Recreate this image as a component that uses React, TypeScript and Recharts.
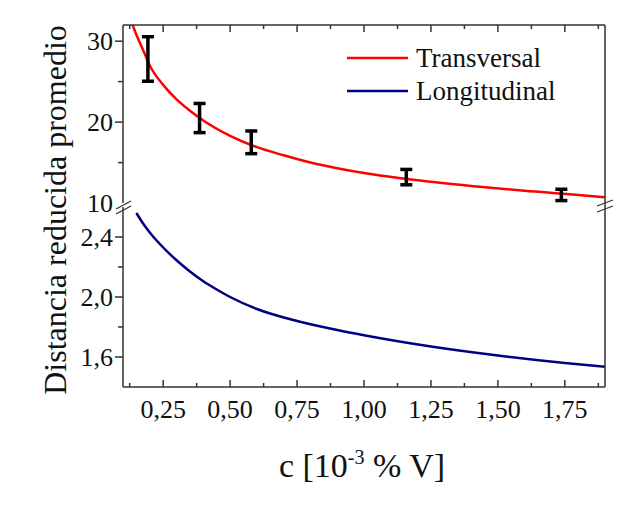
import { ComposedChart, Line, Scatter, ErrorBar, XAxis, YAxis } from "recharts";

const transX = [0.13, 0.15, 0.175, 0.2, 0.25, 0.3, 0.35, 0.4, 0.5, 0.6, 0.7, 0.8, 0.9, 1.0, 1.2, 1.4, 1.6, 1.8, 1.9];
const transY = [32.5, 30.8, 28.9, 27.0, 24.6, 22.8, 21.4, 20.2, 18.3, 16.9, 15.9, 15.0, 14.3, 13.7, 12.8, 12.1, 11.5, 11.0, 10.7];

const longX = [0.15, 0.175, 0.2, 0.25, 0.3, 0.35, 0.4, 0.45, 0.5, 0.6, 0.75, 0.9, 1.0, 1.25, 1.5, 1.75, 1.9];
const longY = [2.56, 2.49, 2.43, 2.33, 2.245, 2.17, 2.105, 2.05, 2.0, 1.92, 1.84, 1.78, 1.745, 1.67, 1.61, 1.56, 1.535];

const measX = [0.193, 0.386, 0.579, 1.158, 1.737];
const measY = [27.8, 20.5, 17.5, 13.2, 11.0];
const measErr = [2.75, 1.8, 1.4, 0.95, 0.7];

const xTicks = [0.125, 0.25, 0.375, 0.5, 0.625, 0.75, 0.875, 1.0, 1.125, 1.25, 1.375, 1.5, 1.625, 1.75, 1.875];
const xMajor = [0.25, 0.5, 0.75, 1.0, 1.25, 1.5, 1.75];
const topTicks = [10, 15, 20, 25, 30];
const topMajor = [10, 20, 30];
const botTicks = [1.6, 1.8, 2.0, 2.2, 2.4];
const botMajor = [1.6, 2.0, 2.4];

const transData = transX.map((x, i) => ({ x, y: transY[i] }));
const longData = longX.map((x, i) => ({ x, y: longY[i] }));
const measData = measX.map((x, i) => ({ x, y: measY[i], err: measErr[i] }));

const FONT = "'Liberation Serif', 'Times New Roman', serif";
const AXIS = "#333";
const W = 625;
const H = 506;

const isMajor = (list: number[], v: number) => list.some((m) => Math.abs(m - v) < 1e-6);
const comma = (v: number, d: number) => v.toFixed(d).replace(".", ",");

function LeftTick(props: any) {
  const { x, y, payload, majors, decimals, noLine } = props;
  const major = isMajor(majors, payload.value);
  const hideLine = noLine !== undefined && Math.abs(payload.value - noLine) < 1e-6;
  return (
    <g>
      {!hideLine && <line x1={x} x2={x - (major ? 8 : 5)} y1={y} y2={y} stroke={AXIS} strokeWidth={1.5} />}
      {major && (
        <text x={x - 10} y={y} textAnchor="end" dominantBaseline="central" fontFamily={FONT} fontSize={26} fill="#111">
          {comma(payload.value, decimals)}
        </text>
      )}
    </g>
  );
}

function RightTick(props: any) {
  const { x, y, payload, majors, noLine } = props;
  const major = isMajor(majors, payload.value);
  if (noLine !== undefined && Math.abs(payload.value - noLine) < 1e-6) return <g />;
  return <line x1={x} x2={x - (major ? 8 : 5)} y1={y} y2={y} stroke={AXIS} strokeWidth={1.5} />;
}

function TopTick(props: any) {
  const { x, y, payload } = props;
  const major = isMajor(xMajor, payload.value);
  return <line x1={x} x2={x} y1={y} y2={y + (major ? 7 : 4)} stroke={AXIS} strokeWidth={1.5} />;
}

function BottomTick(props: any) {
  const { x, y, payload } = props;
  const major = isMajor(xMajor, payload.value);
  return (
    <g>
      <line x1={x} x2={x} y1={y} y2={y - (major ? 7 : 4)} stroke={AXIS} strokeWidth={1.5} />
      {major && (
        <text x={x} y={y + 31} textAnchor="middle" fontFamily={FONT} fontSize={26} fill="#111">
          {comma(payload.value, 2)}
        </text>
      )}
    </g>
  );
}

export default function App() {
  return (
    <div style={{ position: "absolute", left: 0, top: 0, width: W, height: H, background: "#fff" }}>
      {/* upper panel: 10 - 32 */}
      <div style={{ position: "absolute", left: 0, top: 0 }}>
        <ComposedChart width={W} height={H} margin={{ top: 25, right: 20, bottom: 303, left: 0 }}>
          <XAxis
            type="number"
            dataKey="x"
            orientation="top"
            mirror
            domain={[0.1, 1.9]}
            ticks={xTicks}
            interval={0}
            allowDataOverflow
            tickSize={0}
            tickMargin={0}
            tickLine={false}
            axisLine={{ stroke: AXIS, strokeWidth: 1.5 }}
            tick={<TopTick />}
          />
          <YAxis
            yAxisId="l"
            type="number"
            domain={[10, 32]}
            ticks={topTicks}
            interval={0}
            allowDataOverflow
            width={123}
            tickSize={0}
            tickMargin={0}
            tickLine={false}
            axisLine={{ stroke: AXIS, strokeWidth: 1.5 }}
            tick={<LeftTick majors={topMajor} decimals={0} noLine={10} />}
          />
          <YAxis
            yAxisId="r"
            orientation="right"
            mirror
            type="number"
            domain={[10, 32]}
            ticks={topTicks}
            interval={0}
            tickSize={0}
            tickMargin={0}
            tickLine={false}
            axisLine={{ stroke: AXIS, strokeWidth: 1.5 }}
            tick={<RightTick majors={topMajor} noLine={10} />}
          />
          <Line
            yAxisId="l"
            data={transData}
            dataKey="y"
            type="monotone"
            stroke="#ff0000"
            strokeWidth={2.5}
            dot={false}
            isAnimationActive={false}
          />
          <Scatter yAxisId="l" data={measData} dataKey="y" shape={() => <g />} isAnimationActive={false}>
            <ErrorBar dataKey="err" direction="y" width={6} strokeWidth={3.5} stroke="#000" />
          </Scatter>
        </ComposedChart>
      </div>

      {/* lower panel: 1.4 - 2.6 */}
      <div style={{ position: "absolute", left: 0, top: 0 }}>
        <ComposedChart width={W} height={H} margin={{ top: 207, right: 20, bottom: 79, left: 0 }}>
          <XAxis
            type="number"
            dataKey="x"
            domain={[0.1, 1.9]}
            ticks={xTicks}
            interval={0}
            allowDataOverflow
            height={40}
            tickSize={0}
            tickMargin={0}
            tickLine={false}
            axisLine={{ stroke: AXIS, strokeWidth: 1.5 }}
            tick={<BottomTick />}
          />
          <YAxis
            yAxisId="l"
            type="number"
            domain={[1.4, 2.6]}
            ticks={botTicks}
            interval={0}
            allowDataOverflow
            width={123}
            tickSize={0}
            tickMargin={0}
            tickLine={false}
            axisLine={{ stroke: AXIS, strokeWidth: 1.5 }}
            tick={<LeftTick majors={botMajor} decimals={1} />}
          />
          <YAxis
            yAxisId="r"
            orientation="right"
            mirror
            type="number"
            domain={[1.4, 2.6]}
            ticks={botTicks}
            interval={0}
            tickSize={0}
            tickMargin={0}
            tickLine={false}
            axisLine={{ stroke: AXIS, strokeWidth: 1.5 }}
            tick={<RightTick majors={botMajor} />}
          />
          <Line
            yAxisId="l"
            data={longData}
            dataKey="y"
            type="monotone"
            stroke="#000080"
            strokeWidth={2.5}
            dot={false}
            isAnimationActive={false}
          />
        </ComposedChart>
      </div>

      {/* titles, legend, axis break marks */}
      <svg width={W} height={H} style={{ position: "absolute", left: 0, top: 0, pointerEvents: "none" }}>
        <text
          transform="translate(66, 210) rotate(-90)"
          textAnchor="middle"
          fontFamily={FONT}
          fontSize={32}
          fill="#111"
        >
          Distancia reducida promedio
        </text>
        <text x={362} y={477} textAnchor="middle" fontFamily={FONT} fontSize={34} fill="#111">
          c [10<tspan dy={-13} fontSize={20}>-3</tspan>
          <tspan dy={13}> % V]</tspan>
        </text>

        <line x1={347} x2={408} y1={58} y2={58} stroke="#ff0000" strokeWidth={2.5} />
        <text x={416} y={58} dominantBaseline="central" fontFamily={FONT} fontSize={27} fill="#111">
          Transversal
        </text>
        <line x1={347} x2={408} y1={91} y2={91} stroke="#000080" strokeWidth={2.5} />
        <text x={416} y={91} dominantBaseline="central" fontFamily={FONT} fontSize={27} fill="#111">
          Longitudinal
        </text>

        <line x1={116} y1={209} x2={131} y2={201} stroke={AXIS} strokeWidth={1.3} />
        <line x1={116} y1={214} x2={131} y2={206} stroke={AXIS} strokeWidth={1.3} />
        <line x1={605} y1={203} x2={605} y2={207} stroke={AXIS} strokeWidth={1.5} />
        <line x1={597} y1={206} x2={613} y2={200} stroke={AXIS} strokeWidth={1.3} />
        <line x1={597} y1={212} x2={613} y2={206} stroke={AXIS} strokeWidth={1.3} />
      </svg>
    </div>
  );
}
